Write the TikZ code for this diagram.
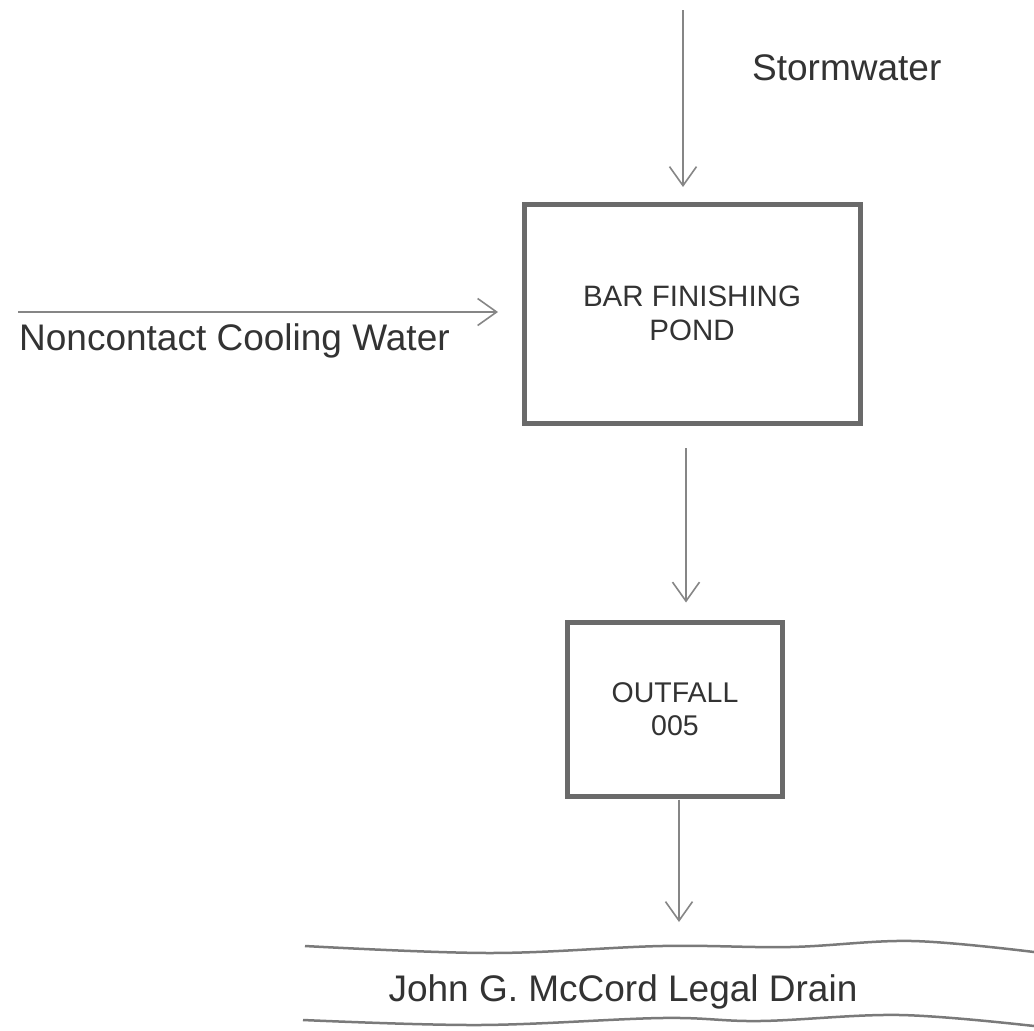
\documentclass[tikz,border=0pt]{standalone}
\usepackage{fontspec}
\setmainfont{Liberation Sans}
\usetikzlibrary{arrows.meta,calc}
\definecolor{linegray}{HTML}{868686}
\definecolor{boxgray}{HTML}{6A6A6A}
\definecolor{wavegray}{HTML}{7A7A7A}
\definecolor{textgray}{HTML}{333333}
\begin{document}
\begin{tikzpicture}[x=1pt,y=-1pt,
  flow/.style={draw=linegray, line width=2pt, -{Straight Barb[length=19pt,width=27pt,line width=1.6pt]}},
  unitbox/.style={draw=boxgray, line width=5pt, rectangle, outer sep=0pt, inner sep=0pt,
     text=textgray, align=center},
  label/.style={text=textgray, inner sep=0pt, font=\fontsize{37}{42}\selectfont},
  wave/.style={draw=wavegray, line width=2.5pt}]
\useasboundingbox (0,0) rectangle (1034,1031);
\fill[white] (0,0) rectangle (1034,1031);

% boxes
\node[unitbox, minimum width=336pt, minimum height=219pt,
      font=\fontsize{29.5}{34}\selectfont] (pond) at (692,313.5) {BAR FINISHING\\POND};
\node[unitbox, minimum width=214.5pt, minimum height=174pt,
      font=\fontsize{28.5}{33}\selectfont] (outfall) at (675,709.5) {OUTFALL\\005};

% texts
\node[label, anchor=base west] (storm) at (752,80) {Stormwater};
\node[label, anchor=base west] (cooling) at (19,350) {Noncontact Cooling Water};
\node[label, anchor=base] (drain) at (623,1001) {John G. McCord Legal Drain};

% free ends
\coordinate (stormtop) at (683,10);
\coordinate (coolstart) at (18,312);
\coordinate (drainin) at (679,922);

% connectors
\draw[flow, shorten >=17pt] (stormtop) -- (stormtop |- pond.north);
\draw[flow, shorten >=26pt] (coolstart) -- (coolstart -| pond.west);
\draw[flow, shorten <=25pt, shorten >=20pt] ([xshift=-6pt]pond.south) -- ([xshift=-6pt]pond.south |- outfall.north);
\draw[flow, shorten <=3pt] ([xshift=4pt]outfall.south) -- (drainin);

% drain banks
\draw[wave] plot[smooth, tension=0.6] coordinates {(305,946) (490,953) (662,946) (790,947) (912,941) (1034,952)};
\draw[wave] plot[smooth, tension=0.6] coordinates {(303,1020) (480,1025) (662,1018) (760,1021) (900,1015) (1034,1026)};
\end{tikzpicture}
\end{document}
